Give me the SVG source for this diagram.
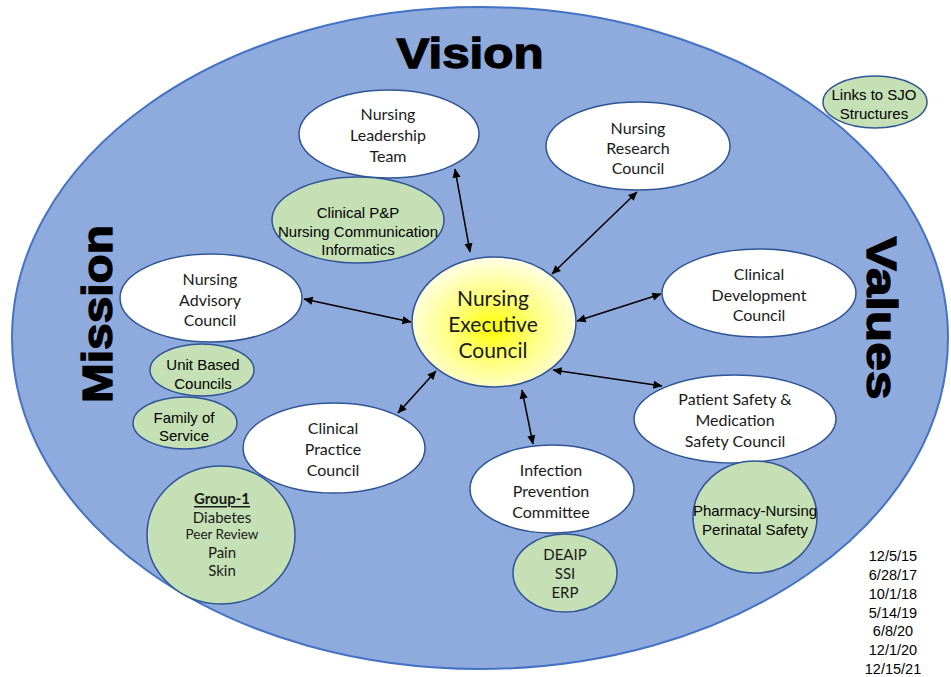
<svg xmlns="http://www.w3.org/2000/svg" width="951" height="677" viewBox="0 0 951 677">
  <defs>
    <radialGradient id="execGlow" cx="50%" cy="55%" r="55%">
      <stop offset="0" stop-color="#FFFF00"/>
      <stop offset="0.45" stop-color="#FFFF7A"/>
      <stop offset="1" stop-color="#FFFFE8"/>
    </radialGradient>
    <marker id="arrow" viewBox="0 0 10 10" refX="9.5" refY="5" markerWidth="10" markerHeight="9" markerUnits="userSpaceOnUse" orient="auto-start-reverse">
      <path d="M0,0.5 L10,5 L0,9.5 z" fill="#000"/>
    </marker>
  </defs>
  <style>
    .field { fill: #8FAADC; stroke: #4472C4; stroke-width: 2; }
    .council { fill: #FFFFFF; stroke: #2F5597; stroke-width: 1.5; }
    .sub { fill: #C5E0B4; stroke: #2F5597; stroke-width: 1.5; }
    .exec { fill: url(#execGlow); stroke: #2F5597; stroke-width: 1.5; }
    .big { font-family: "Liberation Sans", Arial, sans-serif; font-weight: bold; font-size: 42px; fill: #000; stroke: #000; stroke-width: 1.3; text-anchor: middle; }
    .lbl { font-family: Lato, "Liberation Sans", sans-serif; font-size: 16px; fill: #1a1a1a; text-anchor: middle; dominant-baseline: central; }
    .arial { font-family: "Liberation Sans", Arial, sans-serif; font-size: 15px; fill: #000; text-anchor: middle; dominant-baseline: central; }
    .execlbl { font-family: Lato, "Liberation Sans", sans-serif; font-size: 21px; fill: #1a1a1a; text-anchor: middle; dominant-baseline: central; }
    .link { stroke: #000; stroke-width: 1.5; fill: none; marker-start: url(#arrow); marker-end: url(#arrow); }
  </style>

  <!-- outer field -->
  <ellipse class="field" cx="480" cy="338" rx="468" ry="331"/>

  <!-- headings round the rim -->
  <text class="big" x="470" y="68" textLength="147" lengthAdjust="spacingAndGlyphs">Vision</text>
  <text class="big" transform="translate(112,314) rotate(-90)" x="0" y="0" textLength="178" lengthAdjust="spacingAndGlyphs">Mission</text>
  <text class="big" transform="translate(867,318) rotate(90)" x="0" y="0" textLength="163" lengthAdjust="spacingAndGlyphs">Values</text>

  <!-- connectors -->
  <g id="connectors">
    <line class="link" x1="455" y1="169" x2="470" y2="252"/>
    <line class="link" x1="637" y1="192" x2="552" y2="274"/>
    <line class="link" x1="304" y1="299" x2="411" y2="322"/>
    <line class="link" x1="577" y1="321" x2="661" y2="294"/>
    <line class="link" x1="436" y1="371" x2="398" y2="413"/>
    <line class="link" x1="522" y1="390" x2="533" y2="444"/>
    <line class="link" x1="553" y1="370" x2="662" y2="386"/>
  </g>

  <g id="nursing-leadership-team">
    <ellipse class="council" cx="389" cy="134" rx="90" ry="44"/>
    <text class="lbl" x="388" y="113">Nursing</text>
    <text class="lbl" x="388" y="134">Leadership</text>
    <text class="lbl" x="388" y="155">Team</text>
  </g>

  <g id="clinical-pp">
    <ellipse class="sub" cx="358" cy="220" rx="86" ry="43"/>
    <text class="arial" x="358" y="212">Clinical P&amp;P</text>
    <text class="arial" x="358" y="231">Nursing Communication</text>
    <text class="arial" x="358" y="249">Informatics</text>
  </g>

  <g id="nursing-research-council">
    <ellipse class="council" cx="638" cy="146" rx="92" ry="44"/>
    <text class="lbl" x="638" y="127">Nursing</text>
    <text class="lbl" x="638" y="147">Research</text>
    <text class="lbl" x="638" y="167">Council</text>
  </g>

  <g id="nursing-advisory-council">
    <ellipse class="council" cx="211" cy="298" rx="91" ry="44"/>
    <text class="lbl" x="210" y="278">Nursing</text>
    <text class="lbl" x="210" y="299">Advisory</text>
    <text class="lbl" x="210" y="319">Council</text>
  </g>

  <g id="unit-based-councils">
    <ellipse class="sub" cx="202" cy="370" rx="52" ry="26"/>
    <text class="arial" x="203" y="364">Unit Based</text>
    <text class="arial" x="203" y="383">Councils</text>
  </g>

  <g id="family-of-service">
    <ellipse class="sub" cx="185" cy="423" rx="52" ry="26"/>
    <text class="arial" x="184" y="417">Family of</text>
    <text class="arial" x="184" y="435">Service</text>
  </g>

  <g id="nursing-executive-council">
    <ellipse class="exec" cx="494" cy="322" rx="82" ry="65"/>
    <text class="execlbl" x="493" y="297">Nursing</text>
    <text class="execlbl" x="493" y="323">Executive</text>
    <text class="execlbl" x="493" y="349">Council</text>
  </g>

  <g id="clinical-development-council">
    <ellipse class="council" cx="759" cy="293" rx="97" ry="44"/>
    <text class="lbl" x="759" y="273">Clinical</text>
    <text class="lbl" x="759" y="294">Development</text>
    <text class="lbl" x="759" y="314">Council</text>
  </g>

  <g id="clinical-practice-council">
    <ellipse class="council" cx="334" cy="448" rx="91" ry="45"/>
    <text class="lbl" x="333" y="427">Clinical</text>
    <text class="lbl" x="333" y="448">Practice</text>
    <text class="lbl" x="333" y="469">Council</text>
  </g>

  <g id="group-1">
    <ellipse class="sub" cx="221" cy="535" rx="74" ry="69"/>
    <text class="lbl" x="222" y="498" style="font-weight:bold;font-size:15px;text-decoration:underline">Group-1</text>
    <text class="lbl" x="222" y="517" style="font-size:15px">Diabetes</text>
    <text class="lbl" x="222" y="534" style="font-size:13.5px">Peer Review</text>
    <text class="lbl" x="222" y="552" style="font-size:15px">Pain</text>
    <text class="lbl" x="222" y="570" style="font-size:15px">Skin</text>
  </g>

  <g id="infection-prevention-committee">
    <ellipse class="council" cx="552" cy="489" rx="82" ry="44"/>
    <text class="lbl" x="551" y="469">Infection</text>
    <text class="lbl" x="551" y="490">Prevention</text>
    <text class="lbl" x="551" y="511">Committee</text>
  </g>

  <g id="deaip-ssi-erp">
    <ellipse class="sub" cx="565" cy="573" rx="52" ry="39"/>
    <text class="lbl" x="565" y="554" style="font-size:15px">DEAIP</text>
    <text class="lbl" x="565" y="573" style="font-size:15px">SSI</text>
    <text class="lbl" x="565" y="592" style="font-size:15px">ERP</text>
  </g>

  <g id="patient-medication-safety-council">
    <ellipse class="council" cx="735" cy="419" rx="101" ry="44"/>
    <text class="lbl" x="735" y="398">Patient Safety &amp;</text>
    <text class="lbl" x="735" y="419">Medication</text>
    <text class="lbl" x="735" y="440">Safety Council</text>
  </g>

  <g id="pharmacy-perinatal">
    <ellipse class="sub" cx="755" cy="517" rx="62" ry="56"/>
    <text class="arial" x="755" y="510">Pharmacy-Nursing</text>
    <text class="arial" x="755" y="529">Perinatal Safety</text>
  </g>

  <g id="links-to-sjo">
    <ellipse class="sub" cx="875" cy="102" rx="52" ry="26"/>
    <text class="arial" x="874" y="94">Links to SJO</text>
    <text class="arial" x="874" y="113">Structures</text>
  </g>

  <!-- revision dates -->
  <g id="revision-dates" font-family="'Liberation Sans', Arial, sans-serif" font-size="14.5" fill="#000" text-anchor="middle" dominant-baseline="central">
    <text x="893" y="556">12/5/15</text>
    <text x="893" y="575">6/28/17</text>
    <text x="893" y="594">10/1/18</text>
    <text x="893" y="613">5/14/19</text>
    <text x="893" y="631">6/8/20</text>
    <text x="893" y="650">12/1/20</text>
    <text x="893" y="669">12/15/21</text>
  </g>
</svg>
